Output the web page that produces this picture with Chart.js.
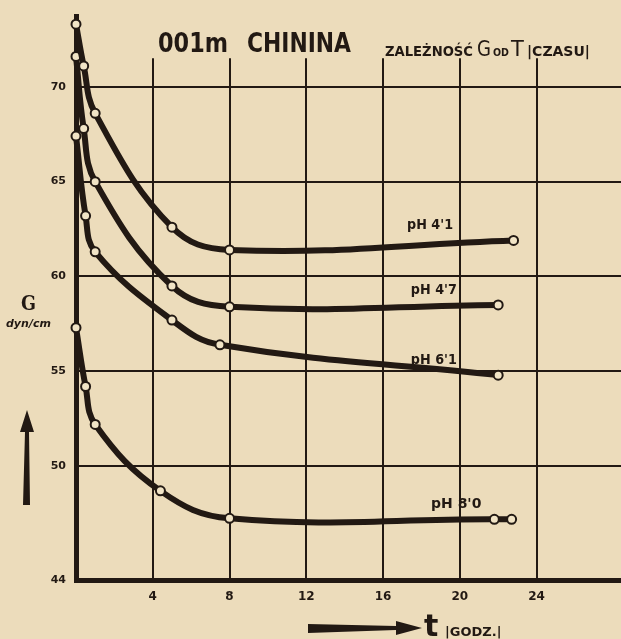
<!DOCTYPE html>
<html>
<head>
<meta charset="utf-8">
<script src="https://cdn.jsdelivr.net/npm/chart.js@4.4.1/dist/chart.umd.min.js"></script>
<style>
  html, body { margin: 0; padding: 0; background: #ecdcbb; }
  canvas { display: block; }
</style>
</head>
<body>
<canvas id="chinina" width="621" height="639"></canvas>
<script>
// dane: czas [godz.] i napiecie powierzchniowe [dyn/cm]
const pH41_t = [0, 0.4, 1, 5, 8, 22.8];
const pH41_s = [73.3, 71.1, 68.6, 62.6, 61.4, 61.9];
const pH47_t = [0, 0.4, 1, 5, 8, 22];
const pH47_s = [71.6, 67.8, 65.0, 59.5, 58.4, 58.5];
const pH61_t = [0, 0.5, 1, 5, 7.5, 22];
const pH61_s = [67.4, 63.2, 61.3, 57.7, 56.4, 54.8];
const pH80_t = [0, 0.5, 1, 4.4, 8, 21.8, 22.7];
const pH80_s = [57.3, 54.2, 52.2, 48.7, 47.25, 47.2, 47.2];

const xTicks = [0, 4, 8, 12, 16, 20, 24];
const yTicks = [44, 50, 55, 60, 65, 70];
const gridTop = 71.5; // pionowe linie siatki koncza sie tutaj
const seriesNames = ["pH 4'1", "pH 4'7", "pH 6'1", "pH 8'0"];

const INK = '#221913';
const PAPER = '#f1e4c6';

function pts(t, s) { return t.map((x, i) => ({ x: x, y: s[i] })); }

function series(label, t, s) {
    return {
        label: label,
        data: pts(t, s),
        borderColor: INK, borderWidth: 6,
        tension: 0.4,
        pointRadius: 4.5, pointBorderWidth: 2,
        pointBackgroundColor: PAPER, pointBorderColor: INK,
        clip: false
    };
}

// pionowa siatka - tylko do wysokosci gridTop
const vgrid = {
    id: 'vgrid',
    beforeDatasetsDraw(chart) {
        const c = chart.ctx;
        const x = chart.scales.x, y = chart.scales.y;
        c.save();
        c.strokeStyle = INK; c.lineWidth = 2;
        xTicks.filter(v => v > 0).forEach(v => {
            const px = Math.round(x.getPixelForValue(v));
            c.beginPath();
            c.moveTo(px, y.getPixelForValue(gridTop));
            c.lineTo(px, y.getPixelForValue(yTicks[0]));
            c.stroke();
        });
        c.restore();
    }
};

// napisy, strzalki - dodatki rysowane recznie na wykresie
const decor = {
    id: 'decor',
    afterDraw(chart) {
        const c = chart.ctx;
        const x = chart.scales.x, y = chart.scales.y;
        c.save();
        c.fillStyle = INK;
        c.textBaseline = 'alphabetic';
        c.textAlign = 'left';

        // tytul
        c.font = 'bold 27px "DejaVu Sans"';
        c.fillText('001m', 158, 52, 70);
        c.fillText('CHININA', 247, 52, 104);
        c.font = 'bold 14px "DejaVu Sans"';
        c.fillText('ZALEŻNOŚĆ', 385, 56, 88);
        c.font = '21px "DejaVu Sans"';
        c.fillText('G', 477, 56, 14);
        c.font = 'bold 10px "DejaVu Sans"';
        c.fillText('OD', 493, 56, 16);
        c.font = '21px "DejaVu Sans"';
        c.fillText('T', 511, 56, 14);
        c.font = 'bold 14px "DejaVu Sans"';
        c.fillText('|CZASU|', 527, 56, 92);

        // os Y - opis
        c.font = 'bold 20px "DejaVu Serif"';
        c.fillText('G', 21, 310, 15);
        c.font = 'italic bold 11px "DejaVu Sans"';
        c.fillText('dyn/cm', 6, 327, 56);

        // os X - opis
        c.font = 'bold 30px "DejaVu Sans"';
        c.fillText('t', 424, 636, 18);
        c.font = 'bold 13px "DejaVu Sans"';
        c.fillText('|GODZ.|', 445, 636, 70);

        // strzalka w gore
        c.beginPath();
        c.moveTo(23, 505); c.lineTo(30, 505); c.lineTo(29, 432);
        c.lineTo(34, 432); c.lineTo(27, 410); c.lineTo(20, 432);
        c.lineTo(25, 432); c.closePath(); c.fill();

        // strzalka w prawo
        c.beginPath();
        c.moveTo(308, 624); c.lineTo(308, 633); c.lineTo(396, 630);
        c.lineTo(396, 635); c.lineTo(422, 628); c.lineTo(396, 621);
        c.lineTo(396, 626); c.closePath(); c.fill();

        // opisy krzywych
        c.font = 'bold 14px "DejaVu Sans"';
        c.fillText(seriesNames[0], x.getPixelForValue(17.25), y.getPixelForValue(62.5), 46);
        c.fillText(seriesNames[1], x.getPixelForValue(17.45), y.getPixelForValue(59.1), 46);
        c.fillText(seriesNames[2], x.getPixelForValue(17.45), y.getPixelForValue(55.4), 46);
        c.fillText(seriesNames[3], x.getPixelForValue(18.5), y.getPixelForValue(47.8), 60);
        c.restore();
    }
};

new Chart(document.getElementById('chinina').getContext('2d'), {
    type: 'line',
    data: {
        datasets: [
            series(seriesNames[0], pH41_t, pH41_s),
            series(seriesNames[1], pH47_t, pH47_s),
            series(seriesNames[2], pH61_t, pH61_s),
            series(seriesNames[3], pH80_t, pH80_s)
        ]
    },
    options: {
        responsive: false, animation: false, devicePixelRatio: 1,
        layout: { autoPadding: false, padding: { top: 0, right: 0, left: 0, bottom: 0 } },
        plugins: { legend: { display: false }, tooltip: { enabled: false } },
        scales: {
            x: {
                type: 'linear', min: 0, max: 28.4,
                afterBuildTicks: s => { s.ticks = xTicks.map(v => ({ value: v })); },
                afterFit: s => { s.height = 59; },
                ticks: {
                    color: INK, padding: 10,
                    font: { family: 'DejaVu Sans', weight: 'bold', size: 12 },
                    callback: v => v === 0 ? '' : v
                },
                grid: { display: false, drawTicks: false },
                border: { display: true, color: INK, width: 5 }
            },
            y: {
                min: 44, max: 73.7,
                afterBuildTicks: s => { s.ticks = yTicks.map(v => ({ value: v })); },
                afterFit: s => { s.width = 76; },
                ticks: {
                    color: INK, padding: 10,
                    font: { family: 'DejaVu Sans', weight: 'bold', size: 11 }
                },
                grid: { color: INK, lineWidth: 2, drawTicks: false },
                border: { color: INK, width: 5 }
            }
        }
    },
    plugins: [vgrid, decor]
});
</script>
</body>
</html>
